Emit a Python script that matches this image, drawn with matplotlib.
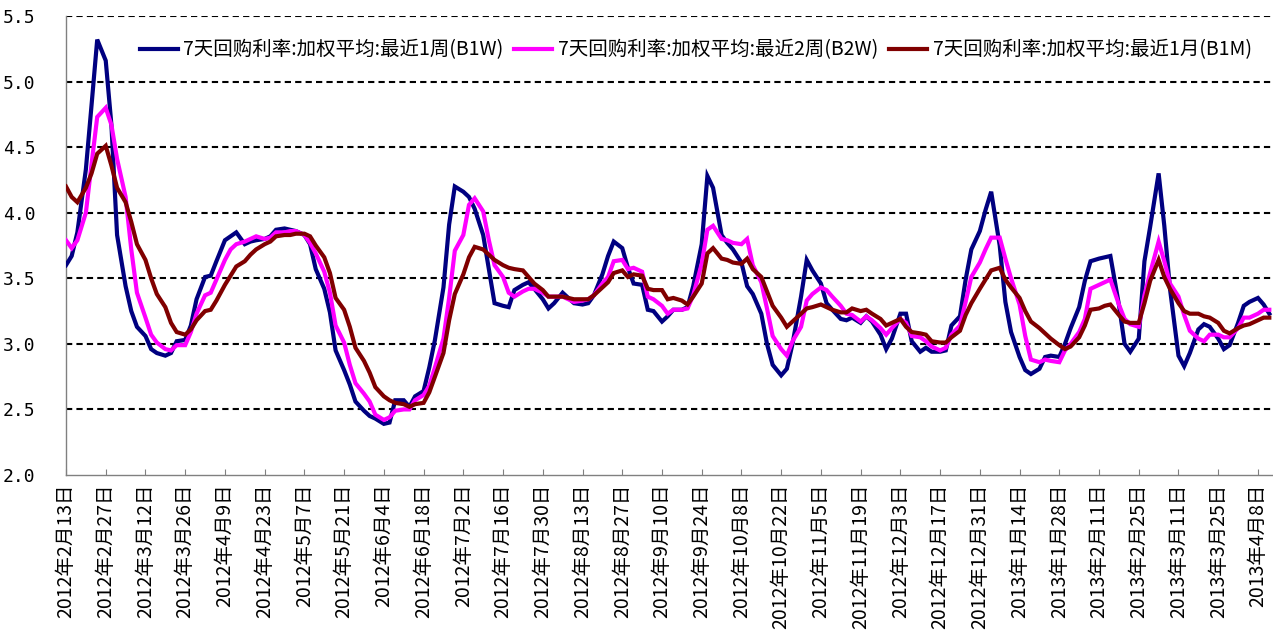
import matplotlib
matplotlib.use("Agg")
import matplotlib.pyplot as plt
import numpy as np
import pandas as pd

plt.rcParams['font.family'] = ['Noto Sans CJK SC', 'DejaVu Sans']

# sample dates: Monday / Wednesday / Friday of every week
first_monday = "2012-02-13"
last_monday = "2013-04-08"
sample_weekdays = [0, 2, 4]

# tick labels every two weeks
tick_start = "2012-02-13"
tick_end = "2013-04-08"

names = ["7天回购利率:加权平均:最近1周(B1W)",
         "7天回购利率:加权平均:最近2周(B2W)",
         "7天回购利率:加权平均:最近1月(B1M)"]

# one row per week: Mon, Wed, Fri
b1w = [3.60, 3.67, 3.85,  4.33, 4.82, 5.32,  5.16, 4.67, 3.83,  3.44, 3.25, 3.13,
       3.06, 2.96, 2.93,  2.91, 2.93, 3.02,  3.03, 3.14, 3.34,  3.51, 3.52, 3.63,
       3.79, 3.82, 3.85,  3.76, 3.78, 3.79,  3.80, 3.82, 3.87,  3.88, 3.87, 3.86,
       3.83, 3.76, 3.57,  3.42, 3.24, 2.95,  2.80, 2.69, 2.56,  2.49, 2.45, 2.43,
       2.39, 2.40, 2.57,  2.57, 2.52, 2.60,  2.64, 2.82, 3.03,  3.43, 3.91, 4.20,
       4.16, 4.12, 4.03,  3.83, 3.57, 3.31,  3.29, 3.28, 3.41,  3.45, 3.47, 3.42,
       3.34, 3.27, 3.31,  3.39, 3.35, 3.31,  3.30, 3.31, 3.37,  3.53, 3.67, 3.78,
       3.73, 3.58, 3.46,  3.45, 3.26, 3.25,  3.17, 3.21, 3.26,  3.26, 3.28, 3.44,
       3.76, 4.28, 4.19,  3.83, 3.77, 3.72,  3.62, 3.44, 3.38,  3.23, 3.00, 2.84,
       2.76, 2.81, 3.00,  3.36, 3.64, 3.56,  3.46, 3.31, 3.26,  3.19, 3.18, 3.20,
       3.16, 3.21, 3.17,  3.07, 2.96, 3.04,  3.23, 3.23, 3.02,  2.94, 2.97, 2.94,
       2.94, 2.95, 3.14,  3.21, 3.49, 3.72,  3.86, 4.02, 4.16,  3.75, 3.32, 3.09,
       2.90, 2.80, 2.77,  2.81, 2.90, 2.91,  2.90, 3.00, 3.12,  3.28, 3.48, 3.63,
       3.65, 3.66, 3.67,  3.30, 3.00, 2.94,  3.04, 3.63, 3.89,  4.30, 3.90, 3.42,
       2.91, 2.83, 2.93,  3.11, 3.15, 3.13,  3.04, 2.96, 2.99,  3.16, 3.29, 3.32,
       3.35, 3.30, 3.23]

b2w = [3.79, 3.73, 3.79,  4.00, 4.37, 4.73,  4.80, 4.67, 4.41,  4.12, 3.72, 3.39,
       3.20, 3.07, 3.01,  2.96, 2.95, 2.99,  2.99, 3.09, 3.23,  3.37, 3.39, 3.49,
       3.64, 3.72, 3.76,  3.78, 3.80, 3.82,  3.80, 3.81, 3.85,  3.85, 3.86, 3.86,
       3.83, 3.77, 3.69,  3.55, 3.39, 3.14,  3.01, 2.84, 2.70,  2.62, 2.56, 2.46,
       2.42, 2.44, 2.49,  2.50, 2.50, 2.57,  2.61, 2.68, 2.82,  3.04, 3.35, 3.71,
       3.83, 4.06, 4.11,  4.01, 3.79, 3.60,  3.51, 3.39, 3.36,  3.40, 3.42, 3.42,
       3.39, 3.36, 3.36,  3.36, 3.34, 3.32,  3.33, 3.34, 3.37,  3.46, 3.51, 3.63,
       3.64, 3.57, 3.58,  3.55, 3.36, 3.34,  3.29, 3.23, 3.26,  3.26, 3.27, 3.37,
       3.61, 3.87, 3.90,  3.80, 3.79, 3.77,  3.76, 3.80, 3.60,  3.47, 3.27, 3.06,
       2.96, 2.91, 3.02,  3.13, 3.33, 3.38,  3.43, 3.41, 3.36,  3.29, 3.23, 3.22,
       3.17, 3.21, 3.18,  3.12, 3.07, 3.12,  3.19, 3.16, 3.06,  3.05, 3.02, 2.98,
       2.95, 2.97, 3.07,  3.14, 3.32, 3.51,  3.62, 3.72, 3.81,  3.81, 3.65, 3.50,
       3.30, 3.06, 2.88,  2.86, 2.88, 2.87,  2.86, 2.95, 3.00,  3.09, 3.19, 3.42,
       3.45, 3.47, 3.49,  3.30, 3.19, 3.15,  3.13, 3.37, 3.54,  3.78, 3.63, 3.46,
       3.36, 3.22, 3.10,  3.04, 3.02, 3.07,  3.07, 3.05, 3.05,  3.12, 3.20, 3.20,
       3.23, 3.26, 3.26]

b1m = [4.20, 4.12, 4.08,  4.19, 4.30, 4.45,  4.51, 4.36, 4.19,  4.08, 3.93, 3.76,
       3.64, 3.50, 3.38,  3.28, 3.16, 3.09,  3.07, 3.11, 3.18,  3.25, 3.26, 3.33,
       3.45, 3.52, 3.59,  3.63, 3.68, 3.72,  3.76, 3.78, 3.82,  3.83, 3.83, 3.84,
       3.84, 3.82, 3.75,  3.66, 3.54, 3.35,  3.26, 3.13, 2.97,  2.87, 2.78, 2.67,
       2.60, 2.57, 2.55,  2.54, 2.52, 2.54,  2.55, 2.63, 2.75,  2.93, 3.18, 3.38,
       3.53, 3.66, 3.74,  3.72, 3.68, 3.64,  3.60, 3.58, 3.57,  3.56, 3.51, 3.46,
       3.41, 3.36, 3.36,  3.36, 3.35, 3.34,  3.34, 3.34, 3.37,  3.43, 3.47, 3.54,
       3.56, 3.51, 3.53,  3.52, 3.42, 3.41,  3.41, 3.34, 3.35,  3.33, 3.30, 3.36,
       3.46, 3.69, 3.73,  3.65, 3.64, 3.62,  3.61, 3.65, 3.57,  3.51, 3.40, 3.29,
       3.20, 3.13, 3.17,  3.23, 3.27, 3.28,  3.30, 3.28, 3.26,  3.24, 3.24, 3.27,
       3.25, 3.26, 3.23,  3.19, 3.14, 3.16,  3.19, 3.13, 3.09,  3.08, 3.07, 3.02,
       3.01, 3.01, 3.05,  3.10, 3.22, 3.31,  3.42, 3.49, 3.56,  3.58, 3.49, 3.43,
       3.35, 3.25, 3.17,  3.12, 3.08, 3.04,  2.99, 2.96, 2.98,  3.05, 3.14, 3.26,
       3.27, 3.29, 3.30,  3.22, 3.17, 3.16,  3.16, 3.31, 3.48,  3.64, 3.51, 3.42,
       3.31, 3.25, 3.23,  3.23, 3.21, 3.20,  3.16, 3.10, 3.08,  3.12, 3.14, 3.15,
       3.18, 3.20, 3.20]

colours = ['#000080', '#FF00FF', '#800000']

mondays = pd.date_range(first_monday, last_monday, freq='W-MON')
dates = sorted(m + pd.Timedelta(days=w) for m in mondays for w in sample_weekdays)
assert len(dates) == len(b1w) == len(b2w) == len(b1m)

fig = plt.figure(figsize=(12.73, 6.40), dpi=100)
ax = fig.add_axes([66 / 1273, 1 - 475 / 640, 1 - 66 / 1273, (475 - 16) / 640])

ticks = pd.date_range(tick_start, tick_end, freq='14D')
yticks = np.arange(2.0, 5.51, 0.5)

# dashed grid, bottom one is the axis itself
for y in yticks[1:]:
    ax.axhline(y, color='black', lw=1.5, dashes=(3, 2), zorder=1)

for vals, name, c in zip([b1w, b2w, b1m], names, colours):
    ax.plot(dates, vals, color=c, lw=3, label=name, zorder=3,
            solid_joinstyle='miter')

ax.set_xlim(pd.Timestamp(tick_start), pd.Timestamp(tick_start) + pd.Timedelta(days=425.3))
ax.set_ylim(2.0, 5.5)

ax.set_yticks(yticks)
ax.set_yticklabels(["%.1f" % v for v in yticks], family='DejaVu Sans Mono',
                   fontsize=13)
ax.tick_params(axis='y', length=0, pad=22)

ax.set_xticks(ticks)
ax.set_xticklabels([f"{d.year}年{d.month}月{d.day}日" for d in ticks],
                   rotation=90, fontsize=14)
ax.tick_params(axis='x', direction='in', length=4, color='#808080', pad=6)

for s in ['top', 'right']:
    ax.spines[s].set_visible(False)
for s in ['left', 'bottom']:
    ax.spines[s].set_color('#808080')
    ax.spines[s].set_linewidth(1)

ax.legend(loc='center left', bbox_to_anchor=(0.061, 0.926), ncol=3,
          frameon=False, fontsize=14, handlelength=1.95, handletextpad=0.3,
          columnspacing=0.55, borderpad=0, borderaxespad=0)

fig.savefig("out.png", dpi=100)
